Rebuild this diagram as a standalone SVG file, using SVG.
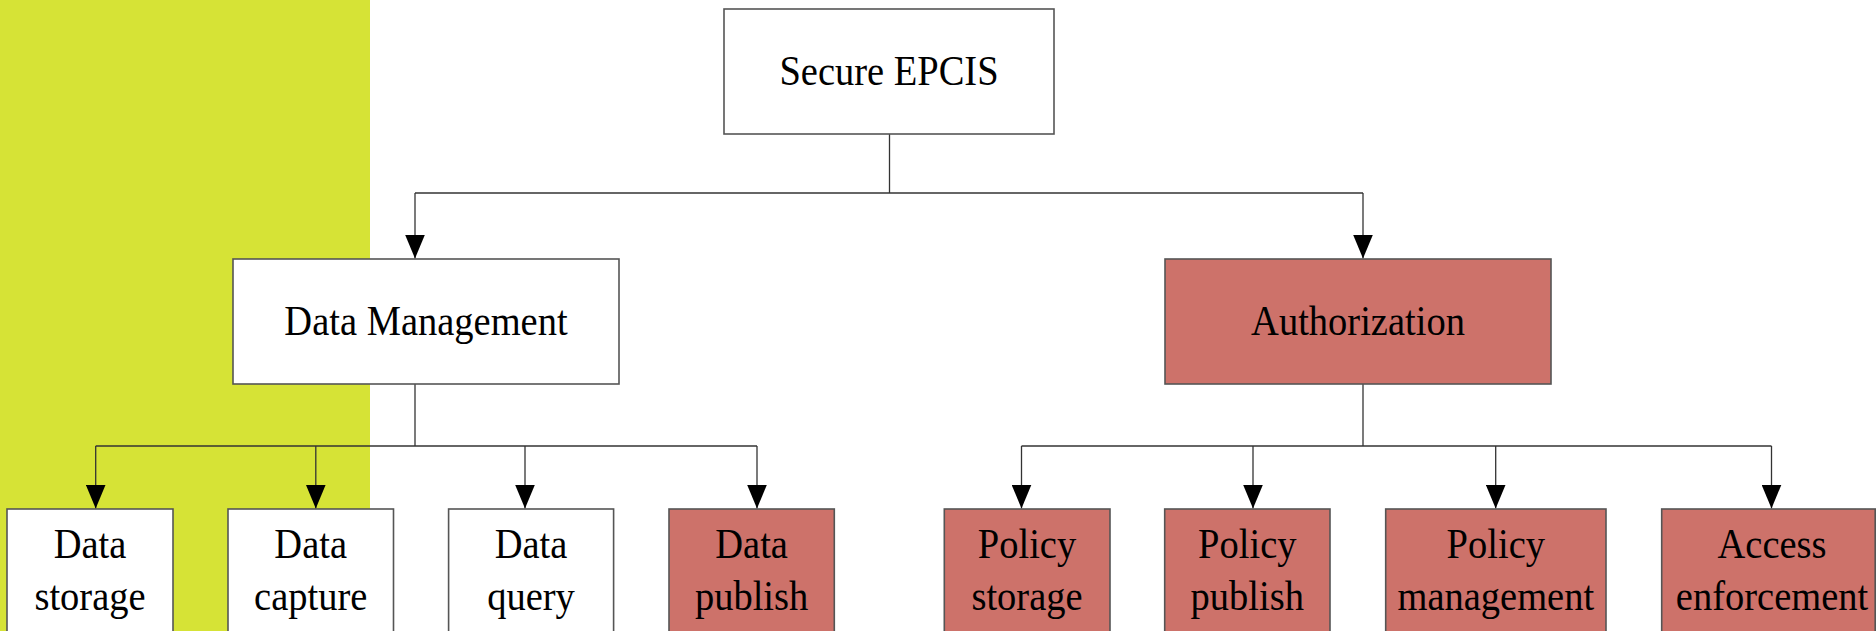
<svg xmlns="http://www.w3.org/2000/svg" width="1876" height="631" viewBox="0 0 1876 631">
<defs>
<style>
.box{stroke:#555;stroke-width:1.6}
.w{fill:#fff}
.r{fill:#cd726a}
.t{font-family:"Liberation Serif","Times New Roman",serif;font-size:38.5px;fill:#000;text-anchor:middle}
.ln{fill:none;stroke:#333;stroke-width:1.3}
</style>
<marker id="ah" viewBox="0 0 24 20" refX="24" refY="10" markerWidth="24" markerHeight="20" markerUnits="userSpaceOnUse" orient="auto">
<path d="M0 0 L24 10 L0 20 Z" fill="#000"/>
</marker>
</defs>
<rect width="1876" height="631" fill="#fff"/>
<rect x="0" y="0" width="370" height="631" fill="#d6e336"/>

<g id="connectors">
<path class="ln" d="M889.5 134 V193"/>
<path class="ln" d="M415 193 H1363"/>
<path class="ln" d="M415 193 V258.5" marker-end="url(#ah)"/>
<path class="ln" d="M1363 193 V258.5" marker-end="url(#ah)"/>
<path class="ln" d="M415 384 V446"/>
<path class="ln" d="M95.7 446 H757"/>
<path class="ln" d="M95.7 446 V508.5" marker-end="url(#ah)"/>
<path class="ln" d="M315.8 446 V508.5" marker-end="url(#ah)"/>
<path class="ln" d="M525 446 V508.5" marker-end="url(#ah)"/>
<path class="ln" d="M757 446 V508.5" marker-end="url(#ah)"/>
<path class="ln" d="M1363 384 V446"/>
<path class="ln" d="M1021.5 446 H1771.5"/>
<path class="ln" d="M1021.5 446 V508.5" marker-end="url(#ah)"/>
<path class="ln" d="M1253 446 V508.5" marker-end="url(#ah)"/>
<path class="ln" d="M1495.7 446 V508.5" marker-end="url(#ah)"/>
<path class="ln" d="M1771.5 446 V508.5" marker-end="url(#ah)"/>
</g>

<g id="secure-epcis">
<rect class="box w" x="724" y="9" width="330" height="125"/>
<text class="t" transform="translate(889 84.5) scale(1 1.1)">Secure EPCIS</text>
</g>
<g id="data-management">
<rect class="box w" x="233" y="259" width="386" height="125"/>
<text class="t" transform="translate(426 334.5) scale(1 1.1)">Data Management</text>
</g>
<g id="authorization">
<rect class="box r" x="1165" y="259" width="386" height="125"/>
<text class="t" transform="translate(1358 334.5) scale(1 1.1)">Authorization</text>
</g>

<g id="data-storage">
<rect class="box w" x="7" y="509" width="166" height="130"/>
<text class="t" transform="translate(90 557.5) scale(1 1.1)">Data</text>
<text class="t" transform="translate(90 610) scale(1 1.1)">storage</text>
</g>
<g id="data-capture">
<rect class="box w" x="228" y="509" width="165.5" height="130"/>
<text class="t" transform="translate(310.7 557.5) scale(1 1.1)">Data</text>
<text class="t" transform="translate(310.7 610) scale(1 1.1)">capture</text>
</g>
<g id="data-query">
<rect class="box w" x="448.6" y="509" width="165" height="130"/>
<text class="t" transform="translate(531 557.5) scale(1 1.1)">Data</text>
<text class="t" transform="translate(531 610) scale(1 1.1)">query</text>
</g>
<g id="data-publish">
<rect class="box r" x="669" y="509" width="165.3" height="130"/>
<text class="t" transform="translate(751.6 557.5) scale(1 1.1)">Data</text>
<text class="t" transform="translate(751.6 610) scale(1 1.1)">publish</text>
</g>
<g id="policy-storage">
<rect class="box r" x="944.3" y="509" width="165.7" height="130"/>
<text class="t" transform="translate(1027 557.5) scale(1 1.1)">Policy</text>
<text class="t" transform="translate(1027 610) scale(1 1.1)">storage</text>
</g>
<g id="policy-publish">
<rect class="box r" x="1164.7" y="509" width="165.3" height="130"/>
<text class="t" transform="translate(1247.3 557.5) scale(1 1.1)">Policy</text>
<text class="t" transform="translate(1247.3 610) scale(1 1.1)">publish</text>
</g>
<g id="policy-management">
<rect class="box r" x="1385.7" y="509" width="220.3" height="130"/>
<text class="t" transform="translate(1495.8 557.5) scale(1 1.1)">Policy</text>
<text class="t" transform="translate(1495.8 610) scale(1 1.1)">management</text>
</g>
<g id="access-enforcement">
<rect class="box r" x="1661.7" y="509" width="213.5" height="130"/>
<text class="t" transform="translate(1772 557.5) scale(1 1.1)">Access</text>
<text class="t" transform="translate(1772 610) scale(1 1.1)">enforcement</text>
</g>
</svg>
